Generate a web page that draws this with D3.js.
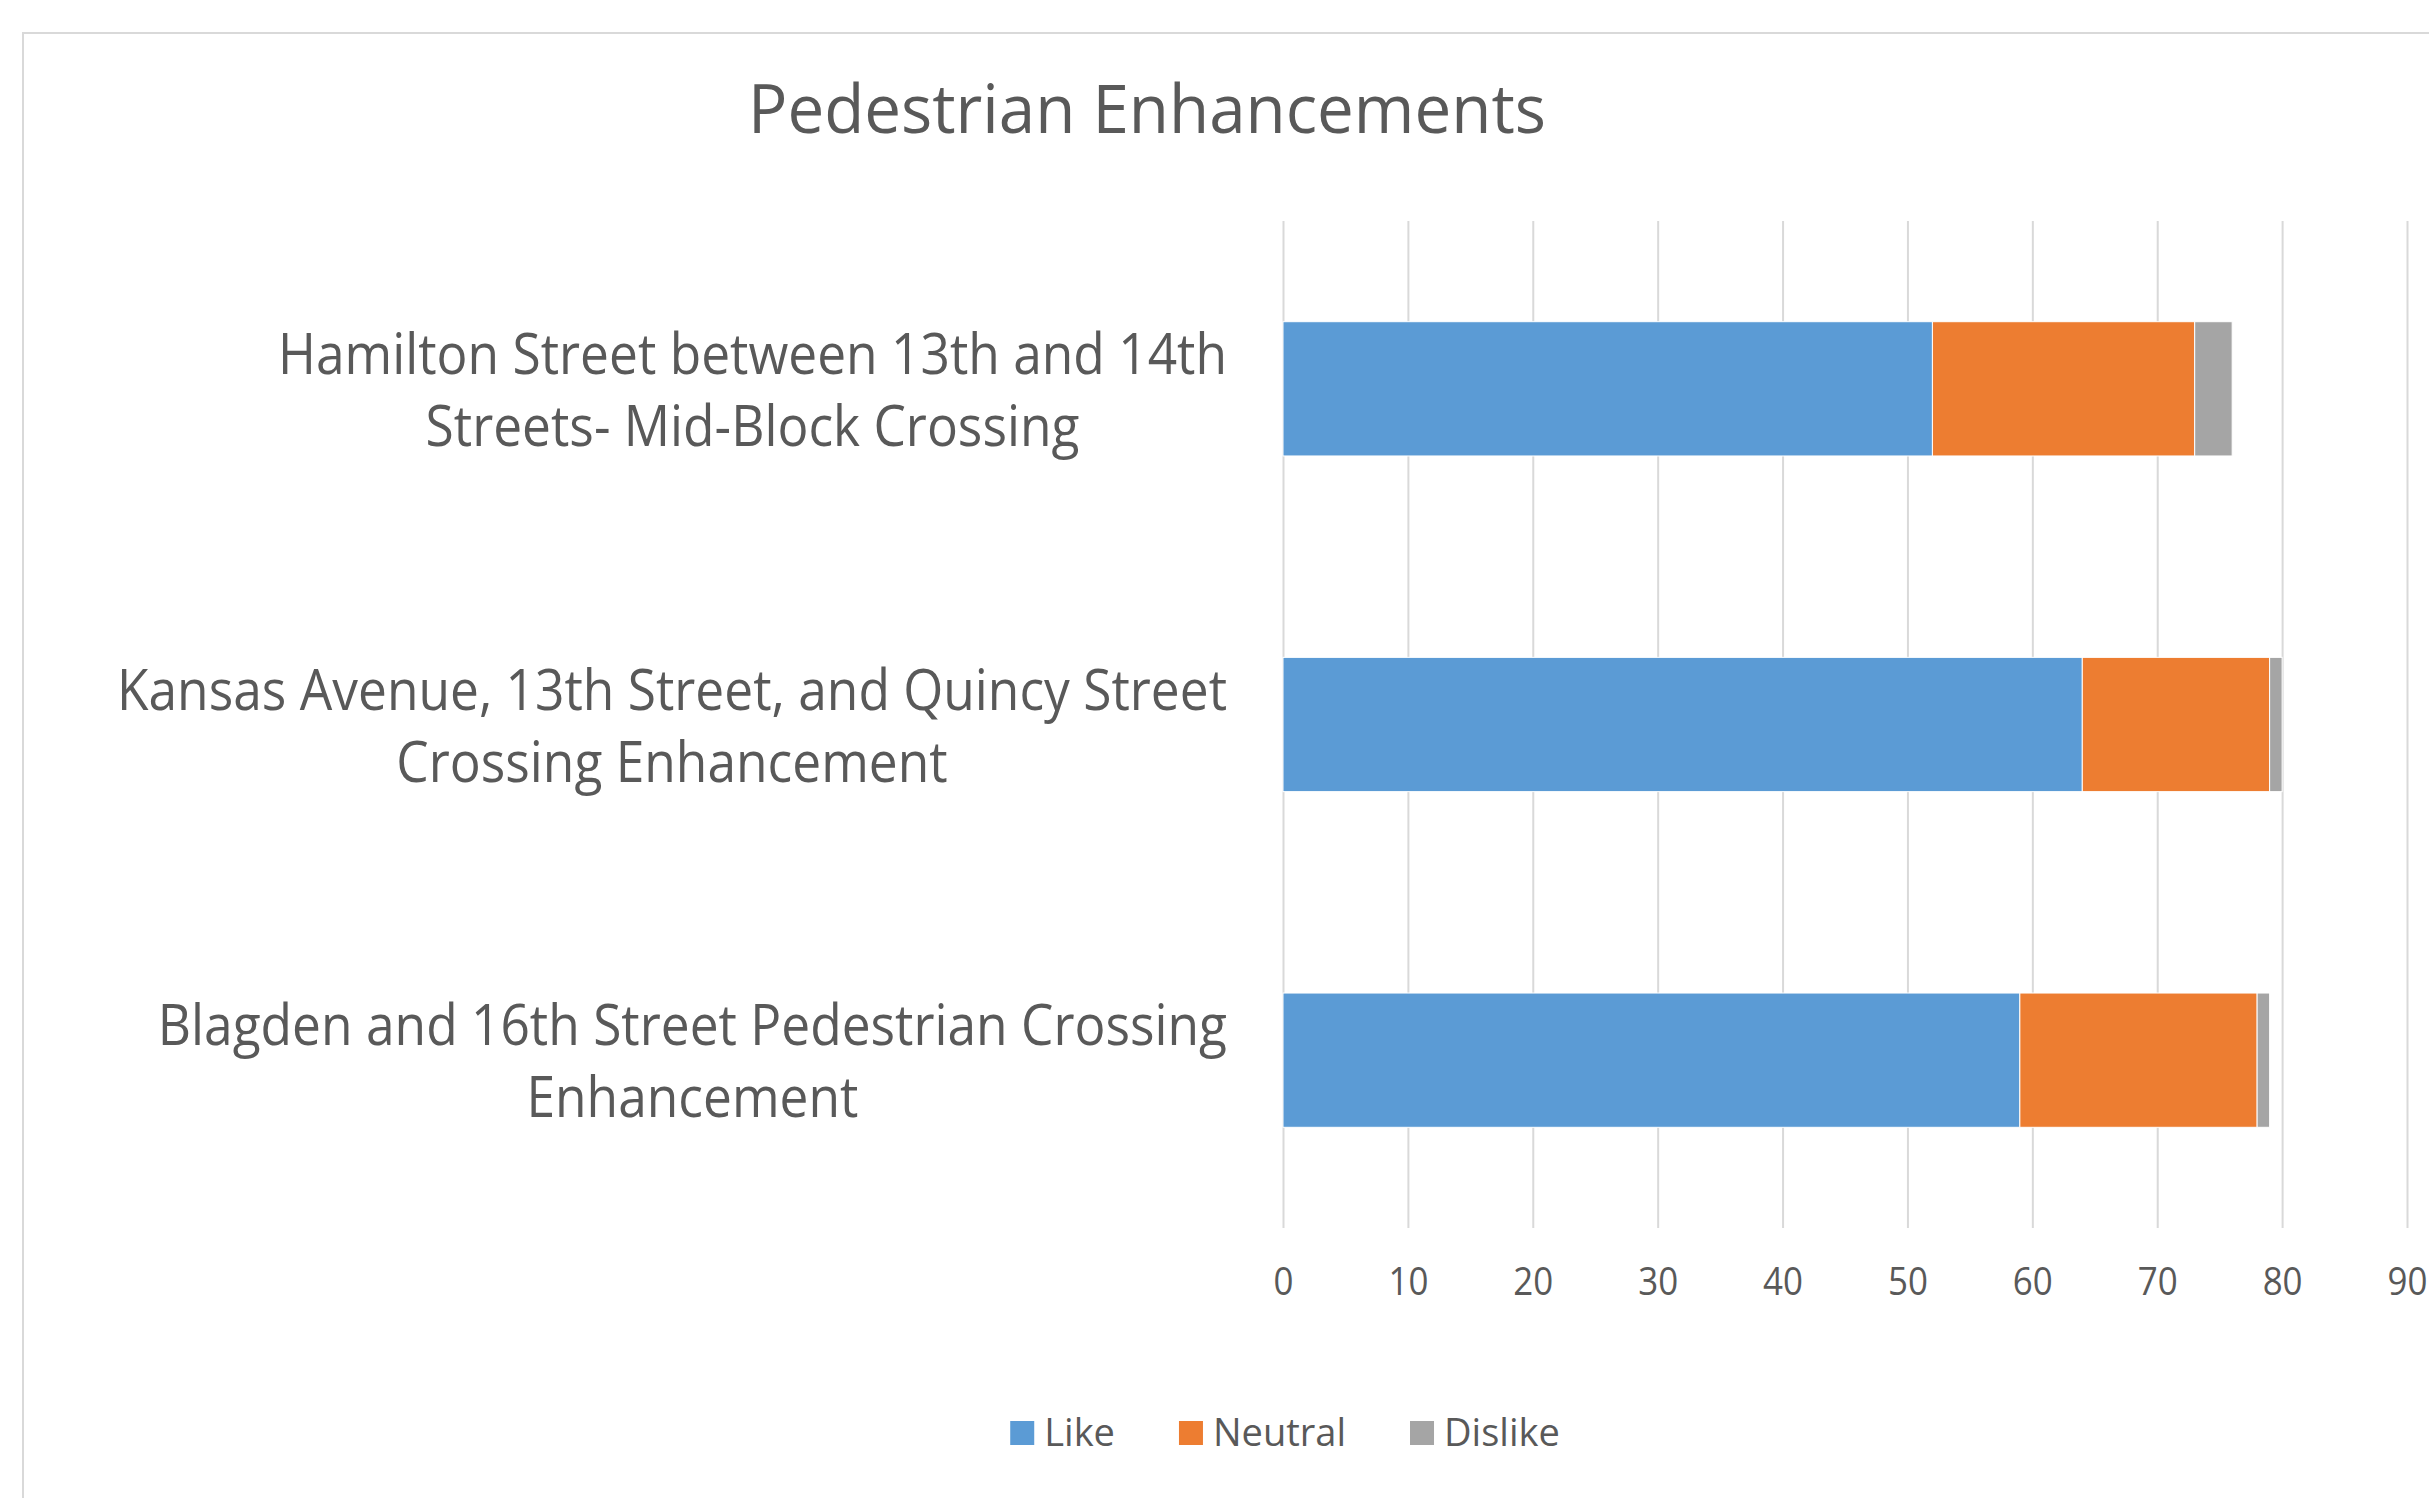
<!DOCTYPE html>
<html lang="en-US">
<head>
<meta charset="utf-8">
<title>Pedestrian Enhancements</title>
<script src="https://d3js.org/d3.v7.min.js"></script>
<style>
body {
  margin: 0;
  background: #fff;
  font-family: 'Open Sans', sans-serif;
}

svg {
  display: block;
}

text {
  fill: #595959;
}

.grid line {
  stroke: #d9d9d9;
  stroke-width: 2;
}

.grid path {
  stroke-width: 0;
}
</style>
</head>
<body>
<svg id="chart" width="2429" height="1498"></svg>

<script>
// values
const labelLines = [
  ['Hamilton Street between 13th and 14th', 'Streets- Mid-Block Crossing'],
  ['Kansas Avenue, 13th Street, and Quincy Street', 'Crossing Enhancement'],
  ['Blagden and 16th Street Pedestrian Crossing', 'Enhancement']
];
const categories = labelLines.map((l) => l.join(' '));

const seriesNames = ['Like', 'Neutral', 'Dislike'];
const seriesColors = ['#5b9bd5', '#ed7d31', '#a5a5a5'];

const like = [52, 64, 59];
const neutral = [21, 15, 19];
const dislike = [3, 1, 1];

const xTicks = [0, 10, 20, 30, 40, 50, 60, 70, 80, 90];

const rows = categories.map((c, i) => ({
  category: c,
  Like: like[i],
  Neutral: neutral[i],
  Dislike: dislike[i]
}));

const svg = d3.select('#chart');

// Calibri is narrower than Open Sans, squeeze the axis text a bit
let squeeze = 1;
function fit(sel, k) {
  const f = k || squeeze;
  sel.each(function () {
    const w = this.getComputedTextLength();
    d3.select(this)
      .attr('textLength', w * f)
      .attr('lengthAdjust', 'spacingAndGlyphs');
  });
  return sel;
}

// chart area border (runs off the right and bottom of the picture)
svg.append('rect')
  .attr('x', 23)
  .attr('y', 33)
  .attr('width', 2500)
  .attr('height', 1600)
  .attr('fill', '#fff')
  .attr('stroke', '#d9d9d9')
  .attr('stroke-width', 2);

const plot = { left: 1283, right: 2407, top: 221, bottom: 1228 };

const xScale = d3.scaleLinear()
  .domain([0, 90])
  .range([plot.left, plot.right]);

const yScale = d3.scaleBand()
  .domain(categories)
  .range([plot.top, plot.bottom])
  .paddingInner(0.6)
  .paddingOuter(0.3);

const colorScale = d3.scaleOrdinal()
  .domain(seriesNames)
  .range(seriesColors);

// work out the squeeze from the longest label
const probe = svg.append('text')
  .attr('font-size', 56)
  .text(labelLines[1][0]);
squeeze = 1110 / probe.node().getComputedTextLength();
probe.remove();

// grid + tick labels
const xAxis = svg.append('g')
  .attr('class', 'grid')
  .attr('transform', `translate(0, ${plot.bottom})`)
  .call(d3.axisBottom(xScale)
    .tickValues(xTicks)
    .tickSize(-(plot.bottom - plot.top))
    .tickPadding(40));

xAxis.select('.domain').remove();
xAxis.selectAll('text')
  .attr('font-size', 38)
  .attr('font-family', "'Open Sans', sans-serif")
  .attr('fill', '#595959')
  .call(fit);

// bars
const stacked = d3.stack().keys(seriesNames)(rows);

svg.append('g')
  .selectAll('g')
  .data(stacked)
  .join('g')
  .attr('fill', (s) => colorScale(s.key))
  .selectAll('rect')
  .data((s) => s)
  .join('rect')
  .attr('x', (d) => xScale(d[0]))
  .attr('y', (d) => yScale(d.data.category))
  .attr('width', (d) => xScale(d[1]) - xScale(d[0]))
  .attr('height', yScale.bandwidth())
  .attr('stroke', '#fff')
  .attr('stroke-width', 1);

// category labels, two lines each, centred on the first line
const labelRight = 1227;
labelLines.forEach((lines, i) => {
  const mid = yScale(categories[i]) + yScale.bandwidth() / 2;
  const first = svg.append('text')
    .attr('x', labelRight)
    .attr('y', mid - 15)
    .attr('text-anchor', 'end')
    .attr('font-size', 56)
    .text(lines[0])
    .call(fit);
  const w = +first.attr('textLength');
  svg.append('text')
    .attr('x', labelRight - w / 2)
    .attr('y', mid + 57)
    .attr('text-anchor', 'middle')
    .attr('font-size', 56)
    .text(lines[1])
    .call(fit);
});

// title
const title = svg.append('text')
  .attr('x', 1147)
  .attr('y', 133)
  .attr('text-anchor', 'middle')
  .attr('font-size', 67)
  .text('Pedestrian Enhancements');
title.attr('textLength', 798).attr('lengthAdjust', 'spacingAndGlyphs');

// legend
const legend = svg.append('g');
let lx = 0;
seriesNames.forEach((name) => {
  const item = legend.append('g').attr('transform', `translate(${lx}, 0)`);
  item.append('rect')
    .attr('x', 0)
    .attr('y', -25)
    .attr('width', 24)
    .attr('height', 24)
    .attr('fill', colorScale(name));
  const t = item.append('text')
    .attr('x', 34)
    .attr('y', 0)
    .attr('font-size', 38)
    .text(name);
  lx += 34 + t.node().getComputedTextLength() + 64;
});
const legendWidth = lx - 64;
legend.attr('transform', `translate(${1285 - legendWidth / 2}, 1446)`);
</script>
</body>
</html>
